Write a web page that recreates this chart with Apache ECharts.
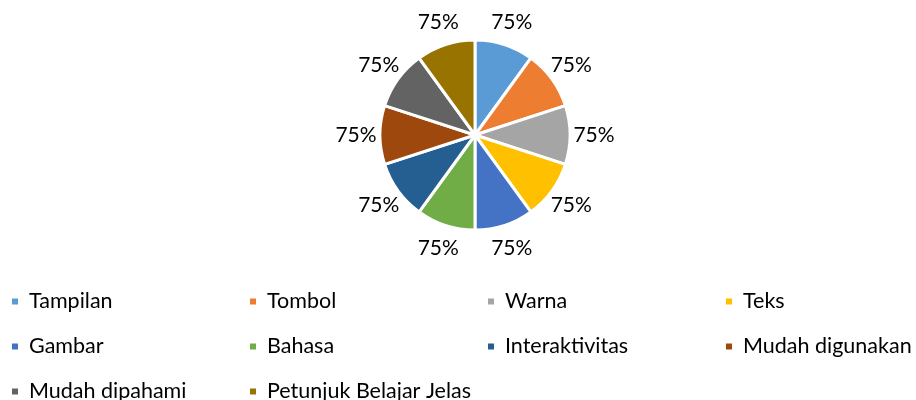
<!DOCTYPE html>
<html>
<head>
<meta charset="utf-8">
<script src="https://cdn.jsdelivr.net/npm/echarts@6/dist/echarts.min.js"></script>
<style>html,body{margin:0;padding:0;background:#fff}#c{width:916px;height:400px}</style>
</head>
<body>
<div id="c"></div>
<script>
const categories = ['Tampilan','Tombol','Warna','Teks','Gambar','Bahasa','Interaktivitas','Mudah digunakan','Mudah dipahami','Petunjuk Belajar Jelas'];
const values = [75,75,75,75,75,75,75,75,75,75];
const colors = ['#5B9BD5','#ED7D31','#A5A5A5','#FFC000','#4472C4','#70AD47','#255E91','#9E480E','#636363','#997300'];
const legendColumns = [
  ['Tampilan','Gambar','Mudah dipahami'],
  ['Tombol','Bahasa','Petunjuk Belajar Jelas'],
  ['Warna','Interaktivitas'],
  ['Teks','Mudah digunakan']
];
const FONT = 'Lato';
const chart = echarts.init(document.getElementById('c'));
const legendLefts = [10, 248, 486, 724];
const legends = legendColumns.map((col, i) => ({
  orient: 'vertical',
  left: legendLefts[i],
  top: 289,
  height: 140,
  padding: 0,
  itemWidth: 8,
  itemHeight: 8,
  icon: 'rect',
  itemGap: 20,
  selectedMode: false,
  data: col,
  textStyle: {fontFamily: FONT, fontSize: 21.5, color: '#000', lineHeight: 25, padding: [0,0,0,5]}
}));
chart.setOption({
  animation: false,
  color: colors,
  legend: legends,
  series: [
    {
      type: 'pie',
      center: [475, 135],
      radius: [0, 95],
      startAngle: 90,
      clockwise: true,
      silent: true,
      itemStyle: {borderColor: '#fff', borderWidth: 3},
      label: {show: false},
      labelLine: {show: false},
      data: categories.map((n, i) => ({name: n, value: values[i]}))
    },
    {
      type: 'pie',
      center: [475, 135],
      radius: [102, 130],
      startAngle: 90,
      clockwise: true,
      silent: true,
      itemStyle: {color: 'rgba(0,0,0,0)'},
      label: {show: true, position: 'inside', formatter: '{c}%', fontFamily: FONT, fontSize: 21, color: '#000'},
      labelLine: {show: false},
      data: values.map(v => ({value: v}))
    }
  ]
});
</script>
</body>
</html>
